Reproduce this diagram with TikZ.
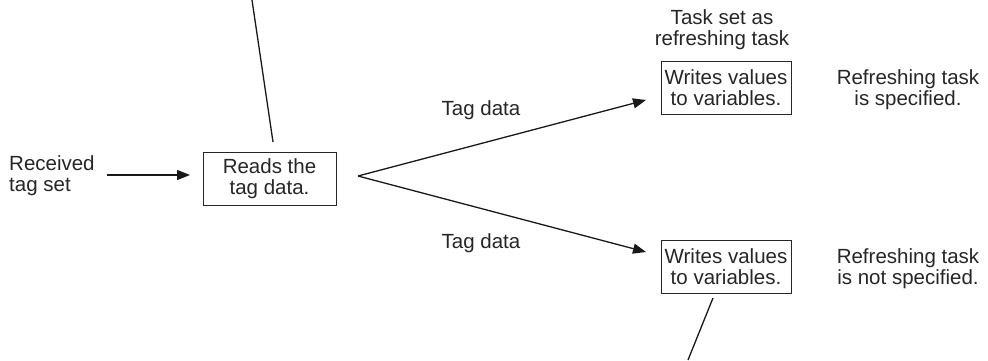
\documentclass[tikz,border=0pt]{standalone}
\usepackage{fontspec}
\setmainfont{Liberation Sans}
\usetikzlibrary{arrows.meta}
\begin{document}
\begin{tikzpicture}[x=1pt,y=-1pt,
  txt/.style={font=\fontsize{20.5}{21}\selectfont, inner sep=0pt, align=center, text=black!85},
  box/.style={txt, draw=black!85, line width=1pt, minimum height=53pt},
  conn/.style={draw=black!90, line width=1.3pt},
  arr/.style={conn, -{Triangle[length=13pt,width=10pt]}}]
\useasboundingbox (0,0) rectangle (988,360);
% boxes
\node[box, minimum width=133pt] (reads) at (269.5,178.5) {Reads the\\tag data.};
\node[box, minimum width=130pt] (w1) at (726,87.5) {Writes values\\to variables.};
\node[box, minimum width=130pt] (w2) at (726,266.5) {Writes values\\to variables.};
% texts
\node[txt, align=left, anchor=west] (recv) at (9,176) {Received\\tag set};
\node[txt] (task) at (722,30) {Task set as\\refreshing task};
\node[txt] (spec) at (908,90) {Refreshing task\\is specified.};
\node[txt] (nspec) at (908,269) {Refreshing task\\is not specified.};
\node[txt] (td1) at (481,110) {Tag data};
\node[txt] (td2) at (481,243) {Tag data};
% coordinates
\coordinate (a0) at (107,175);
\coordinate (a1) at (190,175);
\coordinate (apex) at (358,176);
\coordinate (t1) at (646,100);
\coordinate (t2) at (646,252);
\coordinate (top0) at (252,0);
\coordinate (top1) at (273,142);
\coordinate (bot0) at (713,298);
\coordinate (bot1) at (688,360);
% connectors
\draw[arr] (a0) -- (a1);
\draw[conn] (top0) -- (top1);
\draw[arr] (apex) -- (t1);
\draw[arr] (apex) -- (t2);
\draw[conn] (bot0) -- (bot1);
\end{tikzpicture}
\end{document}
